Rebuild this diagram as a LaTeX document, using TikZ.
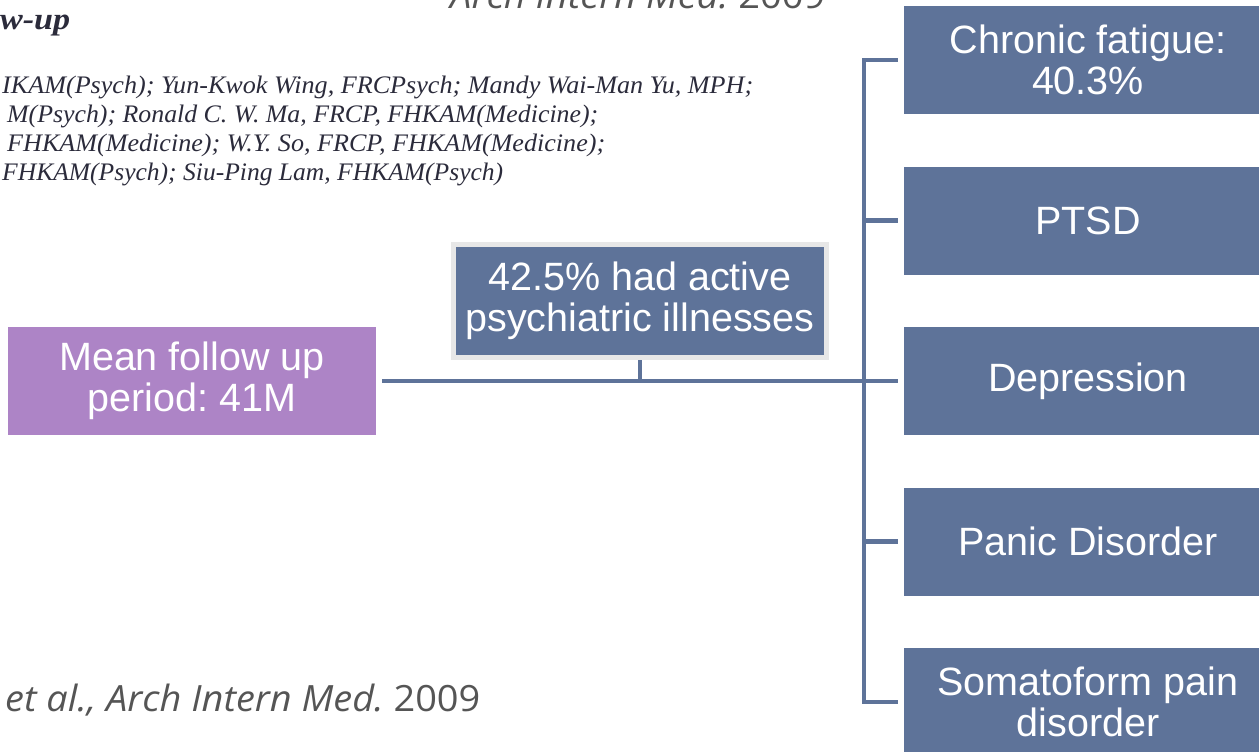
\documentclass[tikz,border=0pt]{standalone}
\usepackage{fontspec}
\setmainfont{Liberation Sans}
\newfontfamily\authfont{Liberation Serif}
\newfontfamily\citefont{Open Sans}
\usetikzlibrary{calc}
\frenchspacing
\definecolor{boxblue}{HTML}{5E7399}
\definecolor{boxpurple}{HTML}{AD84C6}
\definecolor{rimgray}{HTML}{E7E7E7}
\definecolor{authink}{HTML}{2B2B3B}
\definecolor{citeink}{HTML}{555555}
\tikzset{
  boxbase/.style={text=white, minimum width=368pt, minimum height=108pt, inner sep=0pt,
    align=center, font=\fontsize{39.5}{41.5}\selectfont},
  bluebox/.style={boxbase, fill=boxblue},
  purplebox/.style={boxbase, fill=boxpurple},
  rimbox/.style={boxbase, fill=boxblue, draw=rimgray, line width=5pt,
    minimum width=373pt, minimum height=113pt},
  conn/.style={draw=boxblue, line width=4.5pt},
  authline/.style={anchor=base west, inner sep=0pt, text=authink},
  citeline/.style={anchor=base west, inner sep=0pt, text=citeink}
}
\begin{document}
\begin{tikzpicture}[x=1pt,y=-1pt]
\useasboundingbox (0,0) rectangle (1259,752);
% background paper text
\node[authline] (hd) at (0,30) {\resizebox{70pt}{14.5pt}{\authfont\bfseries\itshape\fontsize{34}{34}\selectfont w-up}};
\node[authline] (a1) at (2,93) {\resizebox{751pt}{17.5pt}{\authfont\itshape\fontsize{26}{26}\selectfont IKAM(Psych); Yun-Kwok Wing, FRCPsych; Mandy Wai-Man Yu, MPH;}};
\node[authline] (a2) at (7,122) {\resizebox{591pt}{17.5pt}{\authfont\itshape\fontsize{26}{26}\selectfont M(Psych); Ronald C. W. Ma, FRCP, FHKAM(Medicine);}};
\node[authline] (a3) at (7,151) {\resizebox{598pt}{17.5pt}{\authfont\itshape\fontsize{26}{26}\selectfont FHKAM(Medicine); W.Y. So, FRCP, FHKAM(Medicine);}};
\node[authline] (a4) at (2,180) {\resizebox{501pt}{17.5pt}{\authfont\itshape\fontsize{26}{26}\selectfont FHKAM(Psych); Siu-Ping Lam, FHKAM(Psych)}};
\node[citeline] (ct) at (450,9) {\resizebox{375pt}{27.5pt}{\citefont\itshape Arch Intern Med. \upshape 2009}};
\node[citeline] (cb) at (5,711) {\resizebox{475pt}{27.5pt}{\citefont\itshape et al., Arch Intern Med. \upshape 2009}};
% boxes
\node[purplebox] (fu) at (192,381) {Mean follow up\\period: 41M};
\node[rimbox] (ill) at (640,301) {42.5\% had active\\psychiatric illnesses};
\node[bluebox] (c1) at (1088,60) {Chronic fatigue:\\40.3\%};
\node[bluebox] (c2) at (1088,220.5) {PTSD};
\node[bluebox] (c3) at (1088,381) {Depression};
\node[bluebox] (c4) at (1088,541.5) {Panic Disorder};
\node[bluebox] (c5) at (1088,702) {Somatoform pain\\disorder};
% connectors
\coordinate (bustop) at ($(c1.west)+(-40,0)$);
\coordinate (busbot) at ($(c5.west)+(-40,0)$);
\draw[conn] ([xshift=-6pt]c1.west) -- (bustop) -- (busbot) -- ([xshift=-6pt]c5.west);
\draw[conn] ($(c2.west)+(-40,0)$) -- ([xshift=-6pt]c2.west);
\draw[conn] ($(c4.west)+(-40,0)$) -- ([xshift=-6pt]c4.west);
\draw[conn] ([xshift=6pt]fu.east) -- ([xshift=-6pt]c3.west);
\draw[conn] (ill.south) -- (ill.south |- fu.east);
\end{tikzpicture}
\end{document}
